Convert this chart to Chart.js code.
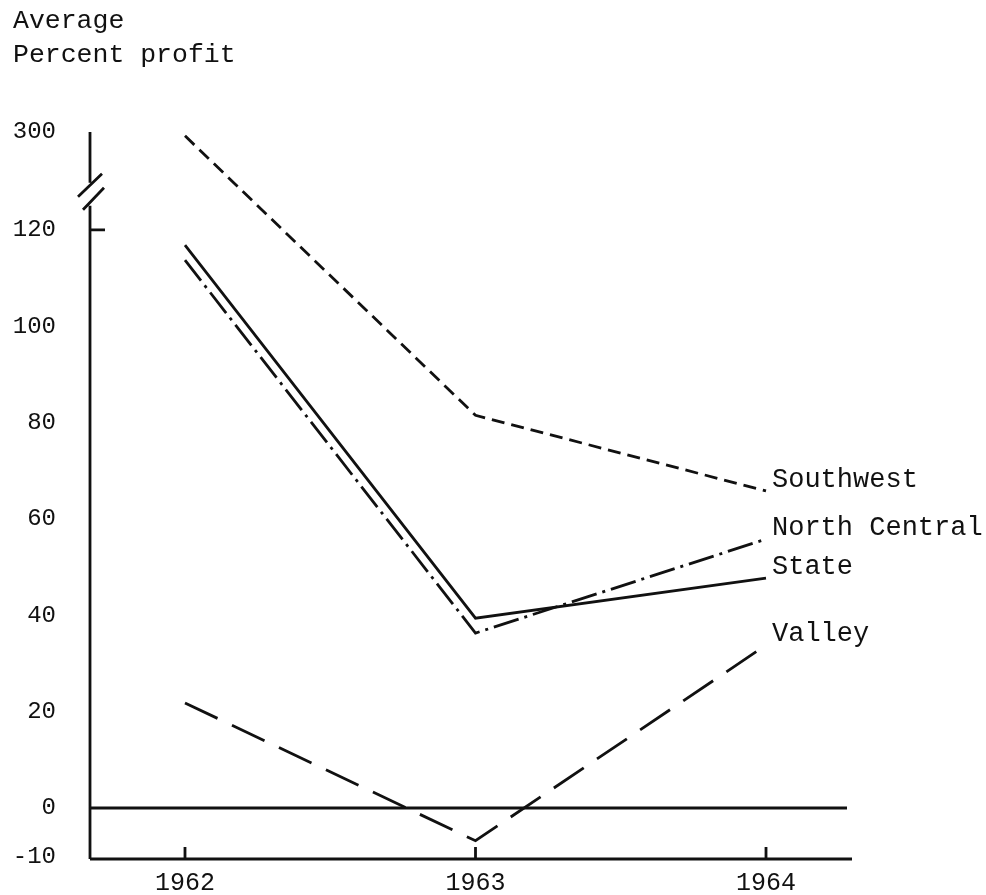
<!DOCTYPE html>
<html>
<head>
<meta charset="utf-8">
<script src="https://cdn.jsdelivr.net/npm/chart.js@4/dist/chart.umd.min.js"></script>
<style>
  html, body { margin: 0; padding: 0; background: #fff; }
  #chart { display: block; }
</style>
</head>
<body>
<canvas id="chart" width="986" height="895"></canvas>
<script>
// values (average percent profit)
const years = [1962, 1963, 1964];
const southwest = [300, 81.5, 65.8];
const northCentral = [113.7, 36.3, 55.8];
const state = [116.8, 39.4, 47.7];
const valley = [21.8, -6.8, 33.8];
const seriesNames = ['Southwest', 'North Central', 'State', 'Valley'];
const yTicks = [-10, 0, 20, 40, 60, 80, 100, 120];
const breakLabel = '300';

// axis is broken above 120: squeeze 120..300 into a short stretch
const BREAK_AT = 120;
const BREAK_TOP = 139.5;
const Y_MAX = 140.3;
const toPlot = (v) => v <= BREAK_AT ? v : BREAK_AT + (v - BREAK_AT) * (BREAK_TOP - BREAK_AT) / (300 - BREAK_AT);

const INK = '#111';
const FONT = '"Liberation Mono", "DejaVu Sans Mono", monospace';

const points = (vals) => vals.map((v, i) => ({ x: years[i], y: toPlot(v) }));

const lineStyle = (dash) => ({
  borderColor: INK,
  borderWidth: 2.8,
  borderDash: dash,
  pointRadius: 0,
  tension: 0,
  fill: false
});

const decorations = {
  id: 'decorations',
  afterDraw(chart) {
    const { ctx, chartArea, scales } = chart;
    const x = scales.x, y = scales.y;
    const left = chartArea.left, bottom = chartArea.bottom;
    const y120 = y.getPixelForValue(BREAK_AT);
    ctx.save();
    ctx.strokeStyle = INK;
    ctx.lineWidth = 2.8;
    ctx.setLineDash([]);

    // y axis, with a gap for the break
    ctx.beginPath();
    ctx.moveTo(left, chartArea.top);
    ctx.lineTo(left, y120 - 47);
    ctx.moveTo(left, y120 - 24);
    ctx.lineTo(left, bottom);
    // break marks
    ctx.moveTo(left - 12, y120 - 33);
    ctx.lineTo(left + 12, y120 - 56);
    ctx.moveTo(left - 7, y120 - 20);
    ctx.lineTo(left + 14, y120 - 42);
    // tick at 120
    ctx.moveTo(left, y120);
    ctx.lineTo(left + 15, y120);
    // x axis
    ctx.moveTo(left, bottom);
    ctx.lineTo(chartArea.right, bottom);
    years.forEach((yr) => {
      const px = x.getPixelForValue(yr);
      ctx.moveTo(px, bottom);
      ctx.lineTo(px, bottom - 12);
    });
    // zero line
    const y0 = y.getPixelForValue(0);
    ctx.moveTo(left, y0);
    ctx.lineTo(chartArea.right - 5, y0);
    ctx.stroke();

    // title
    ctx.fillStyle = INK;
    ctx.font = '26.5px ' + FONT;
    ctx.textAlign = 'left';
    ctx.textBaseline = 'alphabetic';
    ctx.fillText('Average', 13, 28);
    ctx.fillText('Percent profit', 13, 62);

    // series names at line ends
    ctx.font = '27px ' + FONT;
    ctx.textBaseline = 'middle';
    chart.data.datasets.forEach((ds, i) => {
      const meta = chart.getDatasetMeta(i);
      const last = meta.data[meta.data.length - 1];
      ctx.fillText(ds.label, last.x + 6, last.y - 11);
    });
    ctx.restore();
  }
};

new Chart(document.getElementById('chart'), {
  type: 'line',
  data: {
    datasets: [
      { label: seriesNames[0], data: points(southwest), ...lineStyle([13, 7]) },
      { label: seriesNames[1], data: points(northCentral), ...lineStyle([26, 6, 3, 6]) },
      { label: seriesNames[2], data: points(state), ...lineStyle([]) },
      { label: seriesNames[3], data: points(valley), ...lineStyle([36, 16]) }
    ]
  },
  options: {
    responsive: false,
    animation: false,
    layout: { padding: { top: 132, right: 134, bottom: 0, left: 0 } },
    plugins: {
      legend: { display: false },
      tooltip: { enabled: false }
    },
    scales: {
      x: {
        type: 'linear',
        min: 1961.673,
        max: 1964.296,
        afterBuildTicks: (scale) => { scale.ticks = years.map((v) => ({ value: v })); },
        afterFit: (scale) => {
          scale.height = 36;
          scale.paddingLeft = 0;
          scale.paddingRight = 0;
        },
        grid: { display: false, drawTicks: false },
        border: { display: false },
        ticks: {
          color: INK,
          padding: 9,
          maxRotation: 0,
          font: { family: FONT, size: 25 },
          callback: (v) => String(v)
        }
      },
      y: {
        type: 'linear',
        min: -10.59,
        max: Y_MAX,
        afterBuildTicks: (scale) => {
          scale.ticks = yTicks.map((v) => ({ value: v })).concat([{ value: Y_MAX }]);
        },
        afterFit: (scale) => {
          scale.width = 90;
          scale.paddingTop = 0;
          scale.paddingBottom = 0;
        },
        grid: { display: false, drawTicks: false },
        border: { display: false },
        ticks: {
          color: INK,
          padding: 34,
          font: { family: FONT, size: 24 },
          callback: (v) => v === Y_MAX ? breakLabel : String(v)
        }
      }
    }
  },
  plugins: [decorations]
});
</script>
</body>
</html>
